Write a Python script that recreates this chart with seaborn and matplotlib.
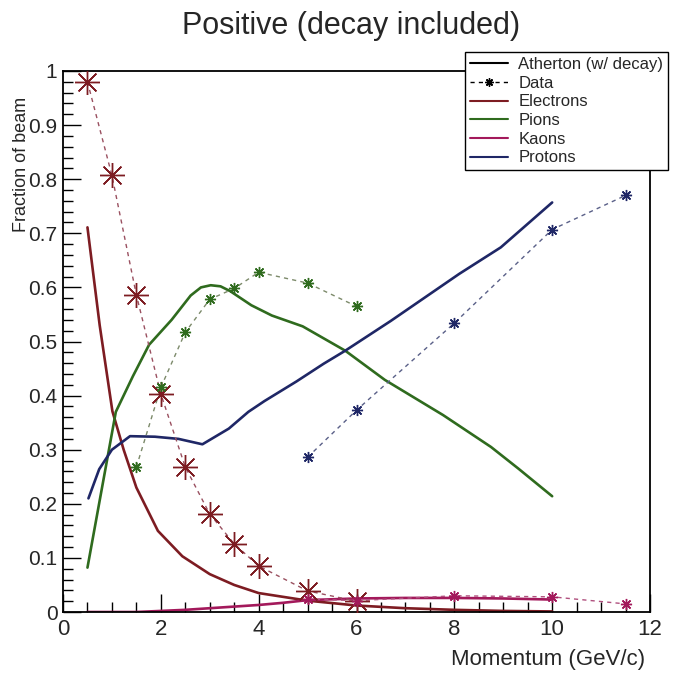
import matplotlib
matplotlib.use("Agg")
import matplotlib.pyplot as plt
from matplotlib.lines import Line2D
from matplotlib.ticker import MultipleLocator, FuncFormatter
import seaborn as sns
import pandas as pd

# ---------------- data ----------------
# Atherton model curves
e_curve_x = [0.5, 0.75, 1.01, 1.24, 1.5, 1.94, 2.44, 3.0, 3.5, 4.0, 5.0, 6.0, 7.0, 8.0, 9.0, 10.0]
e_curve_y = [0.711, 0.53, 0.371, 0.30, 0.23, 0.15, 0.103, 0.07, 0.05, 0.035, 0.021, 0.012, 0.007, 0.004, 0.002, 0.001]

pi_curve_x = [0.5, 1.08, 1.43, 1.76, 2.22, 2.61, 2.82, 3.02, 3.22, 3.42, 3.85, 4.27, 4.9, 5.77, 6.58, 7.77, 8.75, 9.31, 10.0]
pi_curve_y = [0.082, 0.37, 0.436, 0.494, 0.54, 0.585, 0.600, 0.604, 0.602, 0.593, 0.567, 0.548, 0.528, 0.483, 0.429, 0.364, 0.305, 0.265, 0.214]

k_curve_x = [0.5, 1.0, 1.5, 2.0, 2.5, 3.0, 3.5, 4.0, 4.5, 5.0, 6.0, 7.0, 8.0, 9.0, 10.0]
k_curve_y = [0.0, 0.0, 0.0, 0.002, 0.004, 0.007, 0.010, 0.013, 0.017, 0.022, 0.025, 0.026, 0.026, 0.025, 0.023]

p_curve_x = [0.52, 0.74, 1.0, 1.37, 1.88, 2.36, 2.85, 3.39, 3.79, 4.12, 4.77, 5.33, 5.77, 6.7, 8.1, 8.95, 10.0]
p_curve_y = [0.21, 0.264, 0.30, 0.325, 0.324, 0.32, 0.31, 0.339, 0.37, 0.39, 0.426, 0.459, 0.483, 0.538, 0.625, 0.674, 0.757]

# Measured data
e_data_x = [0.5, 1.0, 1.5, 2.0, 2.5, 3.0, 3.5, 4.0, 5.0, 6.0]
e_data_y = [0.98, 0.807, 0.586, 0.403, 0.268, 0.181, 0.126, 0.085, 0.039, 0.02]

pi_data_x = [1.5, 2.0, 2.5, 3.0, 3.5, 4.0, 5.0, 6.0]
pi_data_y = [0.268, 0.415, 0.517, 0.578, 0.598, 0.628, 0.608, 0.565]

k_data_x = [5.0, 6.0, 8.0, 10.0, 11.5]
k_data_y = [0.024, 0.021, 0.030, 0.028, 0.015]

p_data_x = [5.0, 6.0, 8.0, 10.0, 11.5]
p_data_y = [0.286, 0.373, 0.534, 0.707, 0.77]

species = ["Electrons", "Pions", "Kaons", "Protons"]
colors = {"Electrons": "#7d1c22", "Pions": "#2f6b1e", "Kaons": "#a3195b", "Protons": "#1f2766"}
data_line_colors = {"Electrons": "#9a5060", "Pions": "#7c8a6a", "Kaons": "#b0507e", "Protons": "#5a6088"}
marker_sizes = {"Electrons": 18, "Pions": 8, "Kaons": 8, "Protons": 8}

x_ticks = [0, 2, 4, 6, 8, 10, 12]
y_ticks = [0, 0.1, 0.2, 0.3, 0.4, 0.5, 0.6, 0.7, 0.8, 0.9, 1.0]

curves = pd.concat([
    pd.DataFrame({"momentum": e_curve_x, "fraction": e_curve_y, "species": "Electrons"}),
    pd.DataFrame({"momentum": pi_curve_x, "fraction": pi_curve_y, "species": "Pions"}),
    pd.DataFrame({"momentum": k_curve_x, "fraction": k_curve_y, "species": "Kaons"}),
    pd.DataFrame({"momentum": p_curve_x, "fraction": p_curve_y, "species": "Protons"}),
], ignore_index=True)

data = {
    "Electrons": (e_data_x, e_data_y),
    "Pions": (pi_data_x, pi_data_y),
    "Kaons": (k_data_x, k_data_y),
    "Protons": (p_data_x, p_data_y),
}

# ---------------- style ----------------
sns.set_style("ticks")
plt.rcParams["font.family"] = ["Liberation Sans", "DejaVu Sans"]

W, H = 678, 673
fig = plt.figure(figsize=(W / 100, H / 100), dpi=100)
ax = fig.add_axes([63 / W, 1 - 612 / H, (650 - 63) / W, (612 - 71) / H])

# model curves
sns.lineplot(data=curves, x="momentum", y="fraction", hue="species",
             palette=colors, hue_order=species, sort=False, estimator=None,
             linewidth=1.9, legend=False, ax=ax)
for ln in ax.get_lines():
    ln.set_solid_joinstyle("round")

# data points with dashed connecting lines
for sp in species:
    xs, ys = data[sp]
    sns.lineplot(x=xs, y=ys, ax=ax, color=data_line_colors[sp], linewidth=1.0,
                 linestyle=(0, (3, 3)), sort=False, estimator=None, legend=False)
    ax.plot(xs, ys, linestyle="none", marker=(8, 2, 0), markersize=marker_sizes[sp],
            markeredgecolor=colors[sp], markeredgewidth=1.0, zorder=5)
    ax.plot(xs, ys, linestyle="none", marker="s", markersize=3.2,
            color=colors[sp], markeredgewidth=0, zorder=6)

ax.set_xlim(0, 12)
ax.set_ylim(0, 1.0)
ax.set_xlabel("")
ax.set_ylabel("")

ax.xaxis.set_minor_locator(MultipleLocator(0.5))
ax.yaxis.set_minor_locator(MultipleLocator(0.02))
ax.set_xticks(x_ticks)
ax.set_yticks(y_ticks)
ax.yaxis.set_major_formatter(FuncFormatter(lambda v, p: f"{v:g}"))
ax.xaxis.set_major_formatter(FuncFormatter(lambda v, p: f"{v:g}"))

ax.tick_params(which="both", direction="in", top=False, right=False, width=1.0, color="black")
ax.tick_params(which="major", length=13)
ax.tick_params(which="minor", length=7)
ax.tick_params(axis="x", labelsize=16, pad=5)
ax.tick_params(axis="y", labelsize=15, pad=4)
for s in ax.spines.values():
    s.set_visible(True)
    s.set_linewidth(1.3)
    s.set_color("black")

# titles / axis titles
fig.text(351 / W, 1 - 26 / H, "Positive (decay included)", fontsize=22, ha="center", va="center")
fig.text(22 / W, 1 - 97 / H, "Fraction of beam", fontsize=13, rotation=90, ha="center", va="top")
fig.text(645 / W, 1 - 660 / H, "Momentum (GeV/c)", fontsize=16, ha="right", va="center")

# legend
handles = [
    Line2D([], [], color="black", linewidth=1.5),
    Line2D([], [], color="black", linewidth=1.0, linestyle=(0, (3, 3)),
           marker=(8, 2, 0), markersize=6, markeredgecolor="black"),
]
labels = ["Atherton (w/ decay)", "Data"]
for sp in species:
    handles.append(Line2D([], [], color=colors[sp], linewidth=1.5))
    labels.append(sp)
leg = fig.legend(handles, labels, loc="upper left", bbox_to_anchor=(465 / W, 1 - 52 / H),
                 fontsize=12, frameon=True, fancybox=False, framealpha=1, edgecolor="black",
                 handlelength=2.3, handletextpad=0.6, labelspacing=0.22, borderpad=0.3,
                 borderaxespad=0)
leg.get_frame().set_linewidth(1.0)

fig.savefig("out.png", dpi=100)
